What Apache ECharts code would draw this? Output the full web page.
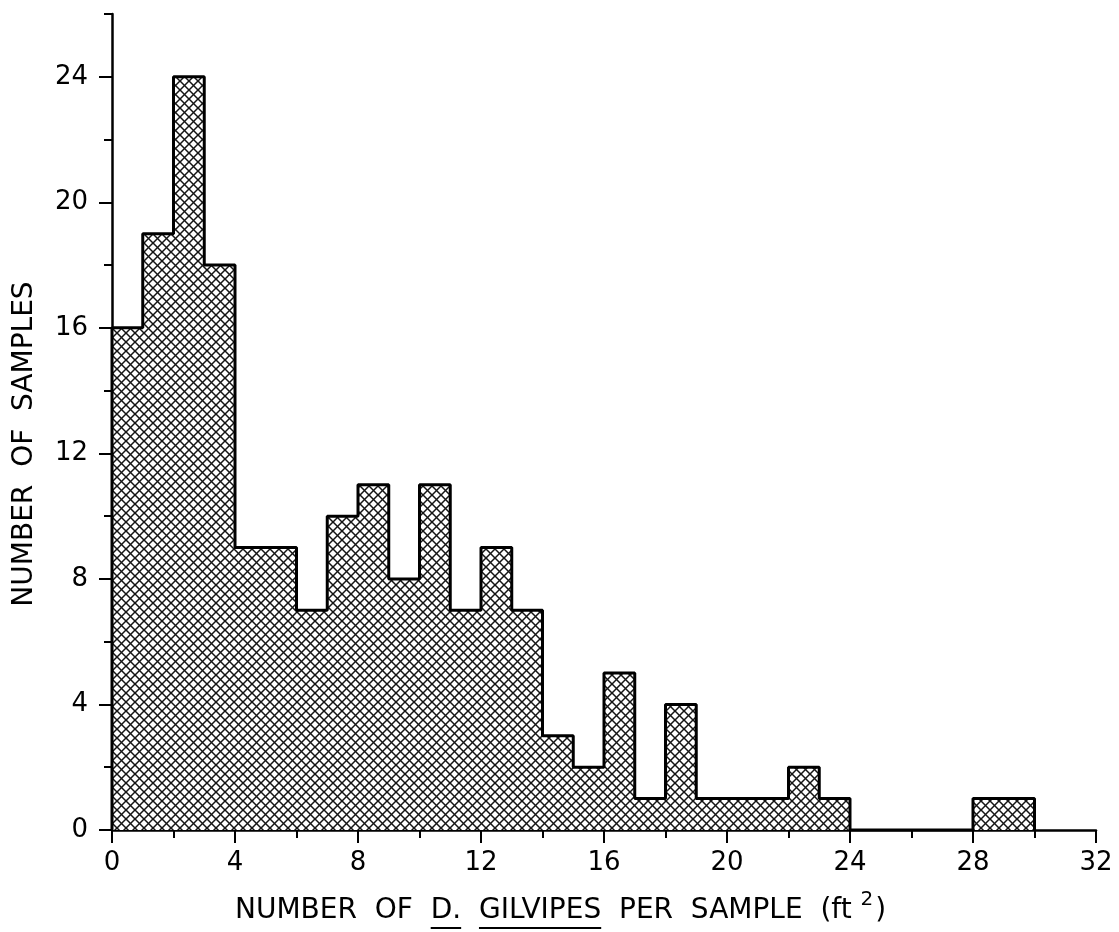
<!DOCTYPE html>
<html>
<head>
<meta charset="utf-8">
<script src="https://cdn.jsdelivr.net/npm/echarts@6/dist/echarts.min.js"></script>
<style>
  html, body { margin: 0; padding: 0; background: #fff; }
  #chart { width: 1119px; height: 932px; }
</style>
</head>
<body>
<div id="chart"></div>
<script>
// ---- data ----
var binStarts = [0,1,2,3,4,5,6,7,8,9,10,11,12,13,14,15,16,17,18,19,20,21,22,23,24,25,26,27,28,29];
var counts    = [16,19,24,18,9,9,7,10,11,8,11,7,9,7,3,2,5,1,4,1,1,1,2,1,0,0,0,0,1,1];
var binWidth = 1;
var xMajorTicks = [0,4,8,12,16,20,24,28,32];
var yMajorTicks = [0,4,8,12,16,20,24];
var yMinorTicks = [2,6,10,14,18,22,26];
var xTitleParts = ['NUMBER  OF  ', 'D.', '  ', 'GILVIPES', '  PER  SAMPLE  (ft '];
var xTitleUnderlined = [false, true, false, true, false];
var xTitleSup = '2';
var xTitleEnd = ')';
var yTitle = 'NUMBER  OF  SAMPLES';

// build step outline points from bins
var stepData = [[0, 0]];
for (var i = 0; i < binStarts.length; i++) stepData.push([binStarts[i], counts[i]]);
stepData.push([binStarts[binStarts.length - 1] + binWidth, 0]);

// crosshatch pattern
function makeHatch() {
  var s = 9;
  var c = document.createElement('canvas');
  c.width = s; c.height = s;
  var g = c.getContext('2d');
  g.fillStyle = '#fff';
  g.fillRect(0, 0, s, s);
  g.strokeStyle = '#151515';
  g.lineWidth = 1.5;
  for (var k = -1; k <= 1; k++) {
    g.beginPath(); g.moveTo(k * s, 0); g.lineTo(k * s + s, s); g.stroke();
    g.beginPath(); g.moveTo(k * s, s); g.lineTo(k * s + s, 0); g.stroke();
  }
  return c;
}

var FONT = '"DejaVu Sans", "Liberation Sans", Arial, sans-serif';
var FS = 26;     // tick labels
var TFS = 28;    // titles
var INK = '#000';

var chart = echarts.init(document.getElementById('chart'));

// measure text for title layout
var mctx = document.createElement('canvas').getContext('2d');
mctx.font = TFS + 'px ' + FONT;
var titleLeft = 235, titleY = 911, underlineY = 928;
var graphics = [];
var cx = titleLeft;
for (var p = 0; p < xTitleParts.length; p++) {
  var w = mctx.measureText(xTitleParts[p]).width;
  graphics.push({
    type: 'text', x: cx, y: titleY,
    style: { text: xTitleParts[p], fontSize: TFS, fontFamily: FONT, fill: INK, textAlign: 'left', textVerticalAlign: 'middle' }
  });
  if (xTitleUnderlined[p]) {
    graphics.push({
      type: 'line', shape: { x1: cx, y1: underlineY, x2: cx + w, y2: underlineY },
      style: { stroke: INK, lineWidth: 2 }
    });
  }
  cx += w;
}
mctx.font = '20px ' + FONT;
var supW = mctx.measureText(xTitleSup).width;
graphics.push({
  type: 'text', x: cx, y: titleY - 11,
  style: { text: xTitleSup, fontSize: 20, fontFamily: FONT, fill: INK, textAlign: 'left', textVerticalAlign: 'middle' }
});
cx += supW + 2;
graphics.push({
  type: 'text', x: cx, y: titleY,
  style: { text: xTitleEnd, fontSize: TFS, fontFamily: FONT, fill: INK, textAlign: 'left', textVerticalAlign: 'middle' }
});
graphics.push({
  type: 'text', x: 25, y: 444, rotation: Math.PI / 2,
  style: { text: yTitle, fontSize: TFS, fontFamily: FONT, fill: INK, textAlign: 'center', textVerticalAlign: 'middle' }
});

var axisLineStyle = { color: INK, width: 2.5 };

chart.setOption({
  backgroundColor: '#fff',
  animation: false,
  grid: { left: 112, right: 23, top: 14, bottom: 102, containLabel: false },
  xAxis: [{
    type: 'value', min: 0, max: 32, interval: 4,
    axisLine: { show: true, onZero: false, lineStyle: axisLineStyle },
    axisTick: { show: true, length: 13, lineStyle: { color: INK, width: 2 } },
    minorTick: { show: true, splitNumber: 2, length: 8, lineStyle: { color: INK, width: 2 } },
    axisLabel: { fontSize: FS, fontFamily: FONT, color: INK, margin: 20,
      customValues: xMajorTicks },
    splitLine: { show: false }, minorSplitLine: { show: false }
  }],
  yAxis: [{
    type: 'value', min: 0, max: 26, interval: 2,
    axisLine: { show: true, onZero: false, lineStyle: axisLineStyle },
    axisTick: { show: true, length: 8, lineStyle: { color: INK, width: 2 }, customValues: yMinorTicks },
    axisLabel: { fontSize: FS, fontFamily: FONT, color: INK, margin: 24, customValues: yMajorTicks },
    splitLine: { show: false }
  }, {
    type: 'value', min: 0, max: 26, interval: 2, position: 'left', offset: 0,
    axisLine: { show: false, onZero: false },
    axisTick: { show: true, length: 13, lineStyle: { color: INK, width: 2 }, customValues: yMajorTicks },
    axisLabel: { show: false },
    splitLine: { show: false }
  }],
  series: [{
    type: 'line',
    step: 'end',
    data: stepData,
    symbol: 'none',
    lineStyle: { color: INK, width: 3 },
    areaStyle: { color: { image: makeHatch(), repeat: 'repeat' }, opacity: 1 },
    z: 1
  }],
  graphic: graphics
});
</script>
</body>
</html>
